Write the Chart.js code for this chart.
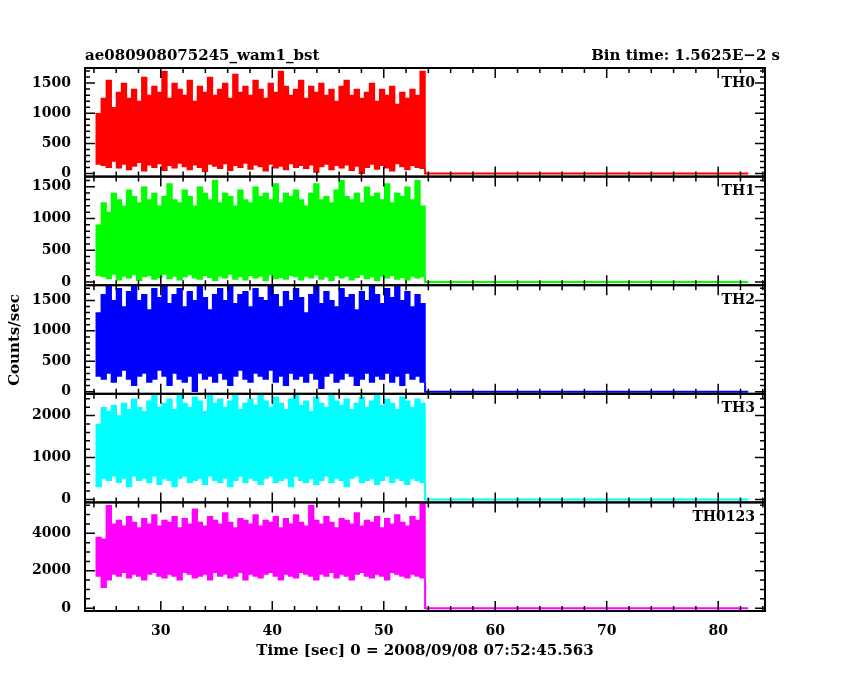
<!DOCTYPE html>
<html><head><meta charset="utf-8">
<script src="https://cdn.jsdelivr.net/npm/chart.js@4/dist/chart.umd.min.js"></script>
<style>html,body{margin:0;background:#fff}#w{width:850px;height:680px}</style>
</head><body><div id="w"><canvas id="c"></canvas></div>
<script>
const binStart = 24.2, binWidth = 0.454, endTime = 82.7;
const names = ['TH0','TH1','TH2','TH3','TH0123'];
const colors = ['#ff0000','#00ff00','#0000ff','#00ffff','#ff00ff'];
const th0Hi=[1000,1250,1550,1100,1350,1500,1250,1400,1200,1600,1300,1450,1350,1700,1250,1500,1400,1300,1550,1200,1450,1350,1600,1300,1400,1500,1250,1650,1350,1450,1300,1550,1400,1250,1500,1350,1700,1450,1300,1400,1550,1250,1450,1350,1500,1300,1400,1200,1450,1550,1300,1400,1250,1350,1500,1200,1400,1300,1450,1150,1350,1250,1400,1300,1700];
const th0Lo=[150,130,100,200,90,150,60,120,180,40,140,100,160,50,130,90,170,110,60,140,100,30,150,120,80,160,50,130,100,170,70,140,110,40,150,90,120,60,160,100,130,80,140,20,110,150,60,130,90,140,50,120,0,100,150,70,130,90,40,160,110,60,130,100,80];
const th1Hi=[900,1250,1100,1400,1300,1200,1450,1350,1250,1500,1300,1400,1200,1350,1550,1300,1250,1450,1350,1200,1500,1400,1300,1600,1250,1400,1350,1200,1450,1300,1250,1500,1350,1400,1300,1550,1250,1400,1350,1450,1300,1200,1400,1550,1300,1350,1250,1450,1600,1350,1300,1400,1250,1500,1350,1400,1300,1550,1250,1400,1350,1500,1300,1600,1200];
const th1Lo=[100,80,50,120,30,90,60,110,20,80,100,40,70,120,50,90,30,80,110,60,40,100,70,20,90,60,120,40,80,30,100,60,90,20,110,50,70,40,100,80,30,90,60,110,40,80,20,100,60,90,30,70,110,50,80,20,90,60,100,40,70,30,90,60,80];
const th2Hi=[1300,1600,1750,1500,1700,1400,1650,1750,1500,1600,1350,1700,1550,1750,1450,1600,1700,1400,1650,1500,1750,1550,1350,1600,1700,1500,1750,1450,1600,1650,1400,1700,1550,1500,1750,1600,1400,1650,1500,1700,1550,1300,1600,1750,1450,1650,1500,1400,1700,1550,1600,1350,1650,1500,1750,1600,1450,1700,1550,1750,1500,1650,1400,1600,1450];
const th2Lo=[250,200,300,150,250,350,200,100,250,300,150,200,350,250,100,300,200,150,250,0,300,200,250,150,300,200,100,250,350,200,150,300,250,200,350,150,250,100,300,200,250,150,300,200,50,250,300,150,200,300,250,100,200,300,150,250,200,300,150,250,100,300,200,250,150];
const th3Hi=[1800,2200,2100,2250,2000,2300,2150,2400,2200,2100,2350,2500,2200,2300,2400,2150,2500,2300,2200,2450,2350,2100,2500,2300,2400,2200,2350,2500,2150,2300,2400,2250,2500,2350,2200,2450,2300,2150,2400,2500,2250,2350,2100,2450,2300,2200,2500,2350,2250,2400,2150,2300,2450,2200,2350,2500,2250,2400,2300,2150,2450,2350,2200,2400,2300];
const th3Lo=[300,500,450,550,400,500,300,550,450,500,400,550,350,500,450,300,500,550,400,450,500,350,550,450,400,500,300,450,550,400,500,450,350,500,550,400,450,500,300,550,450,400,500,350,450,550,400,500,450,300,500,550,400,450,500,350,450,550,400,500,450,350,500,450,400];
const thAllHi=[3800,3700,5500,4500,4700,4400,4900,4600,4300,4800,4500,5000,4400,4700,4600,4900,4300,4800,4500,5300,4600,4400,4900,4700,4500,5100,4600,4300,4800,4700,4500,5000,4400,4700,4600,4900,4300,4800,4500,5000,4600,4400,5500,4700,4500,4900,4600,4300,4800,4700,4500,5100,4400,4700,4600,4900,4300,4800,4500,5000,4600,4400,4900,4700,5600];
const thAllLo=[1700,1100,1500,1800,1700,1900,1600,1800,1700,1500,1800,1900,1700,1600,1800,1700,1500,1900,1800,1600,1700,1800,1500,1900,1700,1800,1600,1700,1900,1500,1800,1700,1600,1800,1900,1700,1500,1800,1700,1600,1900,1800,1700,1500,1800,1700,1900,1600,1800,1700,1500,1800,1900,1700,1600,1800,1700,1500,1900,1800,1700,1600,1800,1700,1600];
const his=[th0Hi,th1Hi,th2Hi,th3Hi,thAllHi], los=[th0Lo,th1Lo,th2Lo,th3Lo,thAllLo];
const yMin=[-50,-50,-35,-70,-150], yMax=[1750,1660,1750,2520,5650];
const yMajor=[[0,500,1000,1500],[0,500,1000,1500],[0,500,1000,1500],[0,1000,2000],[0,2000,4000]];
const yMinorStep=[100,100,100,200,500];
const xMajor=[30,40,50,60,70,80];
const xMin=23.2, xMax=84.2;

const ids=['y0','y1','y2','y3','y4'];
const datasets=[]; const scales={};
const F='"DejaVu Serif", serif';
const barPx=(765-85)/(xMax-xMin)*binWidth+0.6;
for(let k=4;k>=0;k--){
  const id=ids[k]; const mj=yMajor[k];
  scales[id]={type:'linear',position:'left',stack:'v',stackWeight:1,offset:false,min:yMin[k],max:yMax[k],
    grid:{display:false},border:{display:false},
    afterBuildTicks:s=>{s.ticks=mj.map(v=>({value:v}));},
    afterFit:s=>{s.width=85;},
    ticks:{color:'#000',autoSkip:false,callback:v=>String(v),font:{family:F,size:14,weight:'bold'},padding:6}};
}
scales.x={type:'linear',min:xMin,max:xMax,offset:false,grid:{display:false,offset:false},border:{display:false},
  afterBuildTicks:s=>{s.ticks=xMajor.map(v=>({value:v}));},
  afterFit:s=>{s.height=69;},
  ticks:{color:'#000',autoSkip:false,font:{family:F,size:14,weight:'bold'},padding:4,maxRotation:0}};
for(let k=0;k<5;k++){
  const id=ids[k]; const hi=his[k], lo=los[k];
  datasets.push({type:'bar',yAxisID:id,backgroundColor:colors[k],grouped:false,barThickness:barPx,
    data:hi.map((h,i)=>({x:binStart+binWidth*(i+0.5),y:[lo[i],h]}))});
  datasets.push({type:'line',yAxisID:id,borderColor:colors[k],borderWidth:2,pointRadius:0,
    data:[{x:binStart+binWidth*hi.length,y:lo[lo.length-1]},{x:binStart+binWidth*hi.length,y:0},{x:endTime,y:0}]});
}
const deco={id:'deco',afterDraw(ch){
  const c=ch.ctx, x=ch.scales.x; const L=x.left,R=x.right;
  c.save(); c.strokeStyle='#000'; c.fillStyle='#000'; c.lineWidth=2;
  ids.forEach((id,k)=>{
    const s=ch.scales[id]; const T=s.top,B=s.bottom;
    c.strokeRect(L,T,R-L,B-T);
    c.lineWidth=1.5;
    for(let v=Math.ceil(yMin[k]/yMinorStep[k])*yMinorStep[k];v<=yMax[k];v+=yMinorStep[k]){
      const y=s.getPixelForValue(v); const len=yMajor[k].includes(v)?10:5;
      c.beginPath();c.moveTo(L,y);c.lineTo(L+len,y);c.moveTo(R,y);c.lineTo(R-len,y);c.stroke();
    }
    for(let v=24;v<=84;v+=2){
      const px=x.getPixelForValue(v); const len=v%10===0?10:5;
      c.beginPath();c.moveTo(px,T);c.lineTo(px,T+len);c.moveTo(px,B);c.lineTo(px,B-len);c.stroke();
    }
    c.lineWidth=2;
    c.font='bold 14px '+F; c.textAlign='right'; c.textBaseline='top';
    c.fillText(names[k],R-10,T+8);
  });
  c.font='bold 15px '+F; c.textBaseline='alphabetic';
  c.textAlign='left'; c.fillText('ae080908075245_wam1_bst',L,60);
  c.textAlign='right'; c.fillText('Bin time: 1.5625E\u22122 s',780,60);
  c.textAlign='center'; c.fillText('Time [sec] 0 = 2008/09/08 07:52:45.563',(L+R)/2,655);
  c.translate(19,340); c.rotate(-Math.PI/2); c.fillText('Counts/sec',0,0);
  c.restore();
}};
new Chart(document.getElementById('c'),{data:{datasets},
  options:{responsive:true,maintainAspectRatio:false,animation:false,
    layout:{padding:{left:0,right:85,top:68,bottom:0}},
    plugins:{legend:{display:false},tooltip:{enabled:false}},scales},
  plugins:[deco]});
</script></body></html>
